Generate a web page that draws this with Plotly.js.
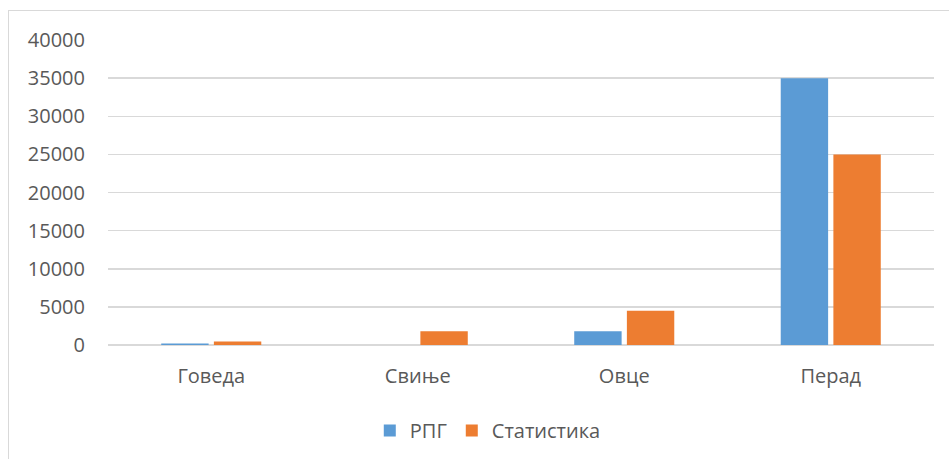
<!DOCTYPE html>
<html>
<head>
<meta charset="utf-8">
<script src="https://cdn.plot.ly/plotly-3.0.1.min.js"></script>
<style>
  html, body { margin: 0; padding: 0; background: #fff; }
  #frame { position: absolute; left: 8px; top: 10px; right: 0; bottom: 0;
           border-left: 1px solid #d9d9d9; border-top: 1px solid #d9d9d9; }
  #chart { position: absolute; left: 0; top: 0; width: 949px; height: 459px; }
</style>
</head>
<body>
<div id="frame"></div>
<div id="chart"></div>
<script>
// категорије и вредности
const categories = ['Говеда', 'Свиње', 'Овце', 'Перад'];
const rpg = [200, 0, 1800, 35000];
const statistika = [450, 1800, 4500, 25000];
const yTicks = [0, 5000, 10000, 15000, 20000, 25000, 30000, 35000, 40000];

const FONT = '"Open Sans", "Segoe UI", sans-serif';

const traces = [
  { type: 'bar', name: 'РПГ', x: categories, y: rpg,
    marker: { color: '#5b9bd5', line: { width: 0 } } },
  { type: 'bar', name: 'Статистика', x: categories, y: statistika,
    marker: { color: '#ed7d31', line: { width: 0 } } }
];

const layout = {
  width: 949, height: 459,
  margin: { l: 108, r: 15, t: 40, b: 114 },
  paper_bgcolor: 'rgba(0,0,0,0)', plot_bgcolor: 'rgba(0,0,0,0)',
  font: { family: FONT, size: 20, color: '#595959' },
  barmode: 'group', bargap: 0.49, bargroupgap: 0.1,
  showlegend: true,
  legend: { orientation: 'h', x: 0.514, xref: 'container', xanchor: 'center',
            y: 0.062, yref: 'container', yanchor: 'middle',
            font: { size: 20, color: '#595959' }, itemwidth: 30, tracegroupgap: 0 },
  xaxis: { showgrid: false, showline: false, zeroline: false, ticks: '',
           ticklabelstandoff: 17, automargin: false },
  yaxis: { range: [0, 40000], tickvals: yTicks, ticktext: yTicks.map(String),
           showgrid: true, gridcolor: '#d9d9d9', gridwidth: 1.5,
           zeroline: true, zerolinecolor: '#d9d9d9', zerolinewidth: 1.5,
           showline: false, ticks: '', ticklabelstandoff: 22, automargin: false }
};

Plotly.newPlot('chart', traces, layout, { displayModeBar: false, staticPlot: true });
</script>
</body>
</html>
